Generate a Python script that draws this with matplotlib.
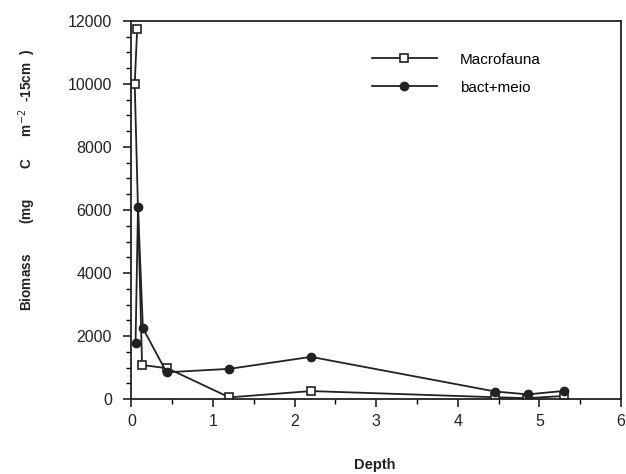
import matplotlib
matplotlib.use("Agg")
import matplotlib.pyplot as plt
from matplotlib.ticker import MultipleLocator

plt.rcParams['font.family'] = ['Liberation Sans', 'DejaVu Sans']

macro_depth = [0.07, 0.04, 0.13, 0.44, 1.2, 2.2, 4.45, 4.85, 5.3]
macro_biomass = [11750, 10000, 1080, 980, 55, 255, 60, 30, 100]
bact_depth = [0.05, 0.08, 0.14, 0.43, 1.2, 2.2, 4.46, 4.86, 5.3]
bact_biomass = [1770, 6090, 2250, 850, 960, 1340, 240, 150, 260]

fig = plt.figure(figsize=(6.26, 4.74), dpi=100)
ax = fig.add_axes([0.21, 0.158, 0.782, 0.798])

ax.plot(macro_depth, macro_biomass, color='#222222', lw=1.3, marker='s',
        ms=6, mfc='white', mec='#222222', mew=1.2, label='Macrofauna')
ax.plot(bact_depth, bact_biomass, color='#222222', lw=1.3, marker='o',
        ms=6, mfc='#222222', mec='#222222', label='bact+meio')

ax.set_xlim(0, 6)
ax.set_ylim(0, 12000)
ax.xaxis.set_major_locator(MultipleLocator(1))
ax.xaxis.set_minor_locator(MultipleLocator(0.5))
ax.yaxis.set_major_locator(MultipleLocator(2000))
ax.yaxis.set_minor_locator(MultipleLocator(500))
ax.tick_params(which='major', direction='out', length=6, width=1.2, labelsize=11.5,
               colors='#222222')
ax.tick_params(axis='y', which='major', pad=8)
ax.tick_params(axis='x', which='major', pad=5)
ax.tick_params(which='minor', direction='out', length=3.5, width=1.0)
for s in ax.spines.values():
    s.set_linewidth(1.3)
    s.set_color('#222222')

ax.set_ylabel(r'Biomass        (mg        C      m$^{-2}$  -15cm  )', fontsize=9.8,
              fontweight='bold', color='#222222', va='center', ha='center')
ax.yaxis.set_label_coords(-0.212, 0.58)
ax.set_xlabel('Depth', fontsize=10.5, fontweight='bold', color='#222222', va='top')
ax.xaxis.set_label_coords(0.498, -0.155)

ax.legend(loc='upper right', bbox_to_anchor=(0.864, 0.952), frameon=False,
          fontsize=11, handlelength=4.25, handletextpad=1.5, labelspacing=0.9)

fig.savefig('out.png', dpi=100)
